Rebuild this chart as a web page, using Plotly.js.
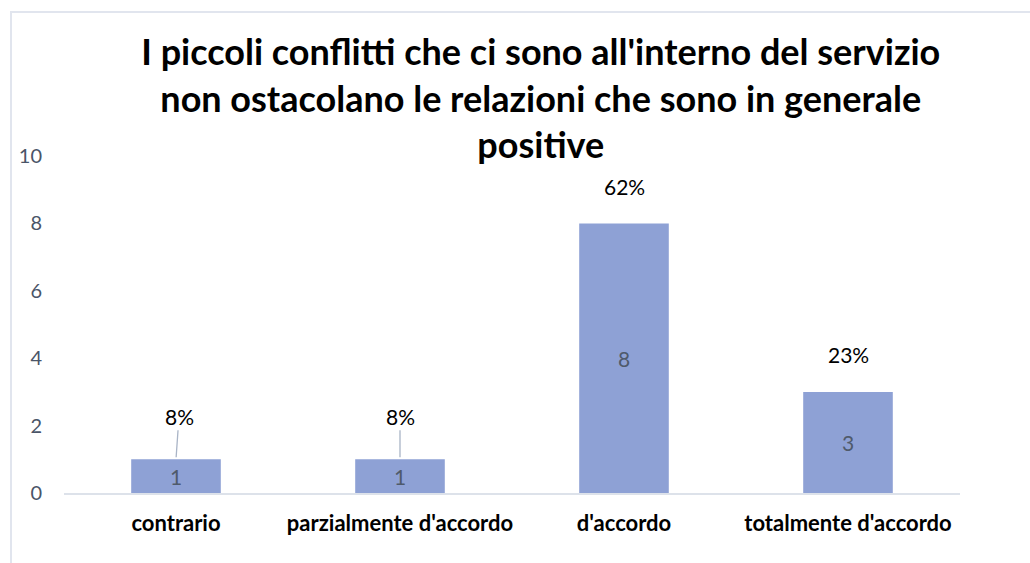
<!DOCTYPE html>
<html>
<head>
<meta charset="utf-8">
<script src="https://cdn.plot.ly/plotly-3.0.1.min.js"></script>
<style>
html,body{margin:0;padding:0;width:1030px;height:563px;overflow:hidden;background:#fff;}
#frame{position:absolute;left:10px;top:11px;width:1100px;height:700px;border:2px solid #E1E5EE;box-sizing:border-box;}
#chart{position:absolute;left:0;top:0;width:1030px;height:563px;}
</style>
</head>
<body>
<div id="frame"></div>
<div id="chart"></div>
<script>
const categories = ["contrario", "parzialmente d'accordo", "d'accordo", "totalmente d'accordo"];
const counts = [1, 1, 8, 3];
const percentLabels = ["8%", "8%", "62%", "23%"];
const showLeader = [true, true, false, false];
const yTicks = [0, 2, 4, 6, 8, 10];

const FONT = "Lato, 'Noto Sans', sans-serif";

const trace = {
  type: "bar",
  x: categories,
  y: counts,
  width: 0.4,
  marker: {color: "#8EA1D5"},
  text: counts.map(String),
  textposition: "inside",
  insidetextanchor: "middle",
  textangle: 0,
  textfont: {family: FONT, size: 21, color: "#4F5A6B"},
  hoverinfo: "none"
};

const annotations = categories.map((c, i) => ({
  x: c, y: counts[i], xref: "x", yref: "y",
  text: percentLabels[i],
  showarrow: true,
  arrowhead: 0,
  arrowwidth: 1.3,
  arrowcolor: showLeader[i] ? "#A9B4C6" : "rgba(0,0,0,0)",
  ax: i === 0 ? 3 : 0,
  ay: showLeader[i] ? -43 : -37,
  standoff: 2,
  font: {family: FONT, size: 21, color: "#000"}
}));

const layout = {
  width: 1030, height: 563,
  paper_bgcolor: "rgba(0,0,0,0)",
  plot_bgcolor: "rgba(0,0,0,0)",
  margin: {l: 64, r: 70, t: 156, b: 70},
  title: {
    text: "I piccoli conflitti che ci sono all'interno del servizio<br>non ostacolano le relazioni che sono in generale<br>positive",
    font: {family: FONT, size: 36, color: "#000", weight: "bold"},
    x: 0.525, xanchor: "center",
    y: 0.885, yanchor: "top"
  },
  xaxis: {
    type: "category",
    showline: true, linecolor: "#DDE2EA", linewidth: 2,
    ticks: "", showgrid: false,
    ticklabelstandoff: 10,
    tickfont: {family: FONT, size: 22, color: "#000", weight: "bold"}
  },
  yaxis: {
    range: [0, 10],
    tickvals: yTicks,
    ticktext: yTicks.map(String),
    showgrid: false, zeroline: false, showline: false,
    ticks: "outside", ticklen: 17, tickcolor: "rgba(0,0,0,0)",
    tickfont: {family: FONT, size: 20, color: "#4A5568"}
  },
  annotations: annotations,
  showlegend: false,
  bargap: 0.6
};

Plotly.newPlot("chart", [trace], layout, {displayModeBar: false, staticPlot: true});
</script>
</body>
</html>
